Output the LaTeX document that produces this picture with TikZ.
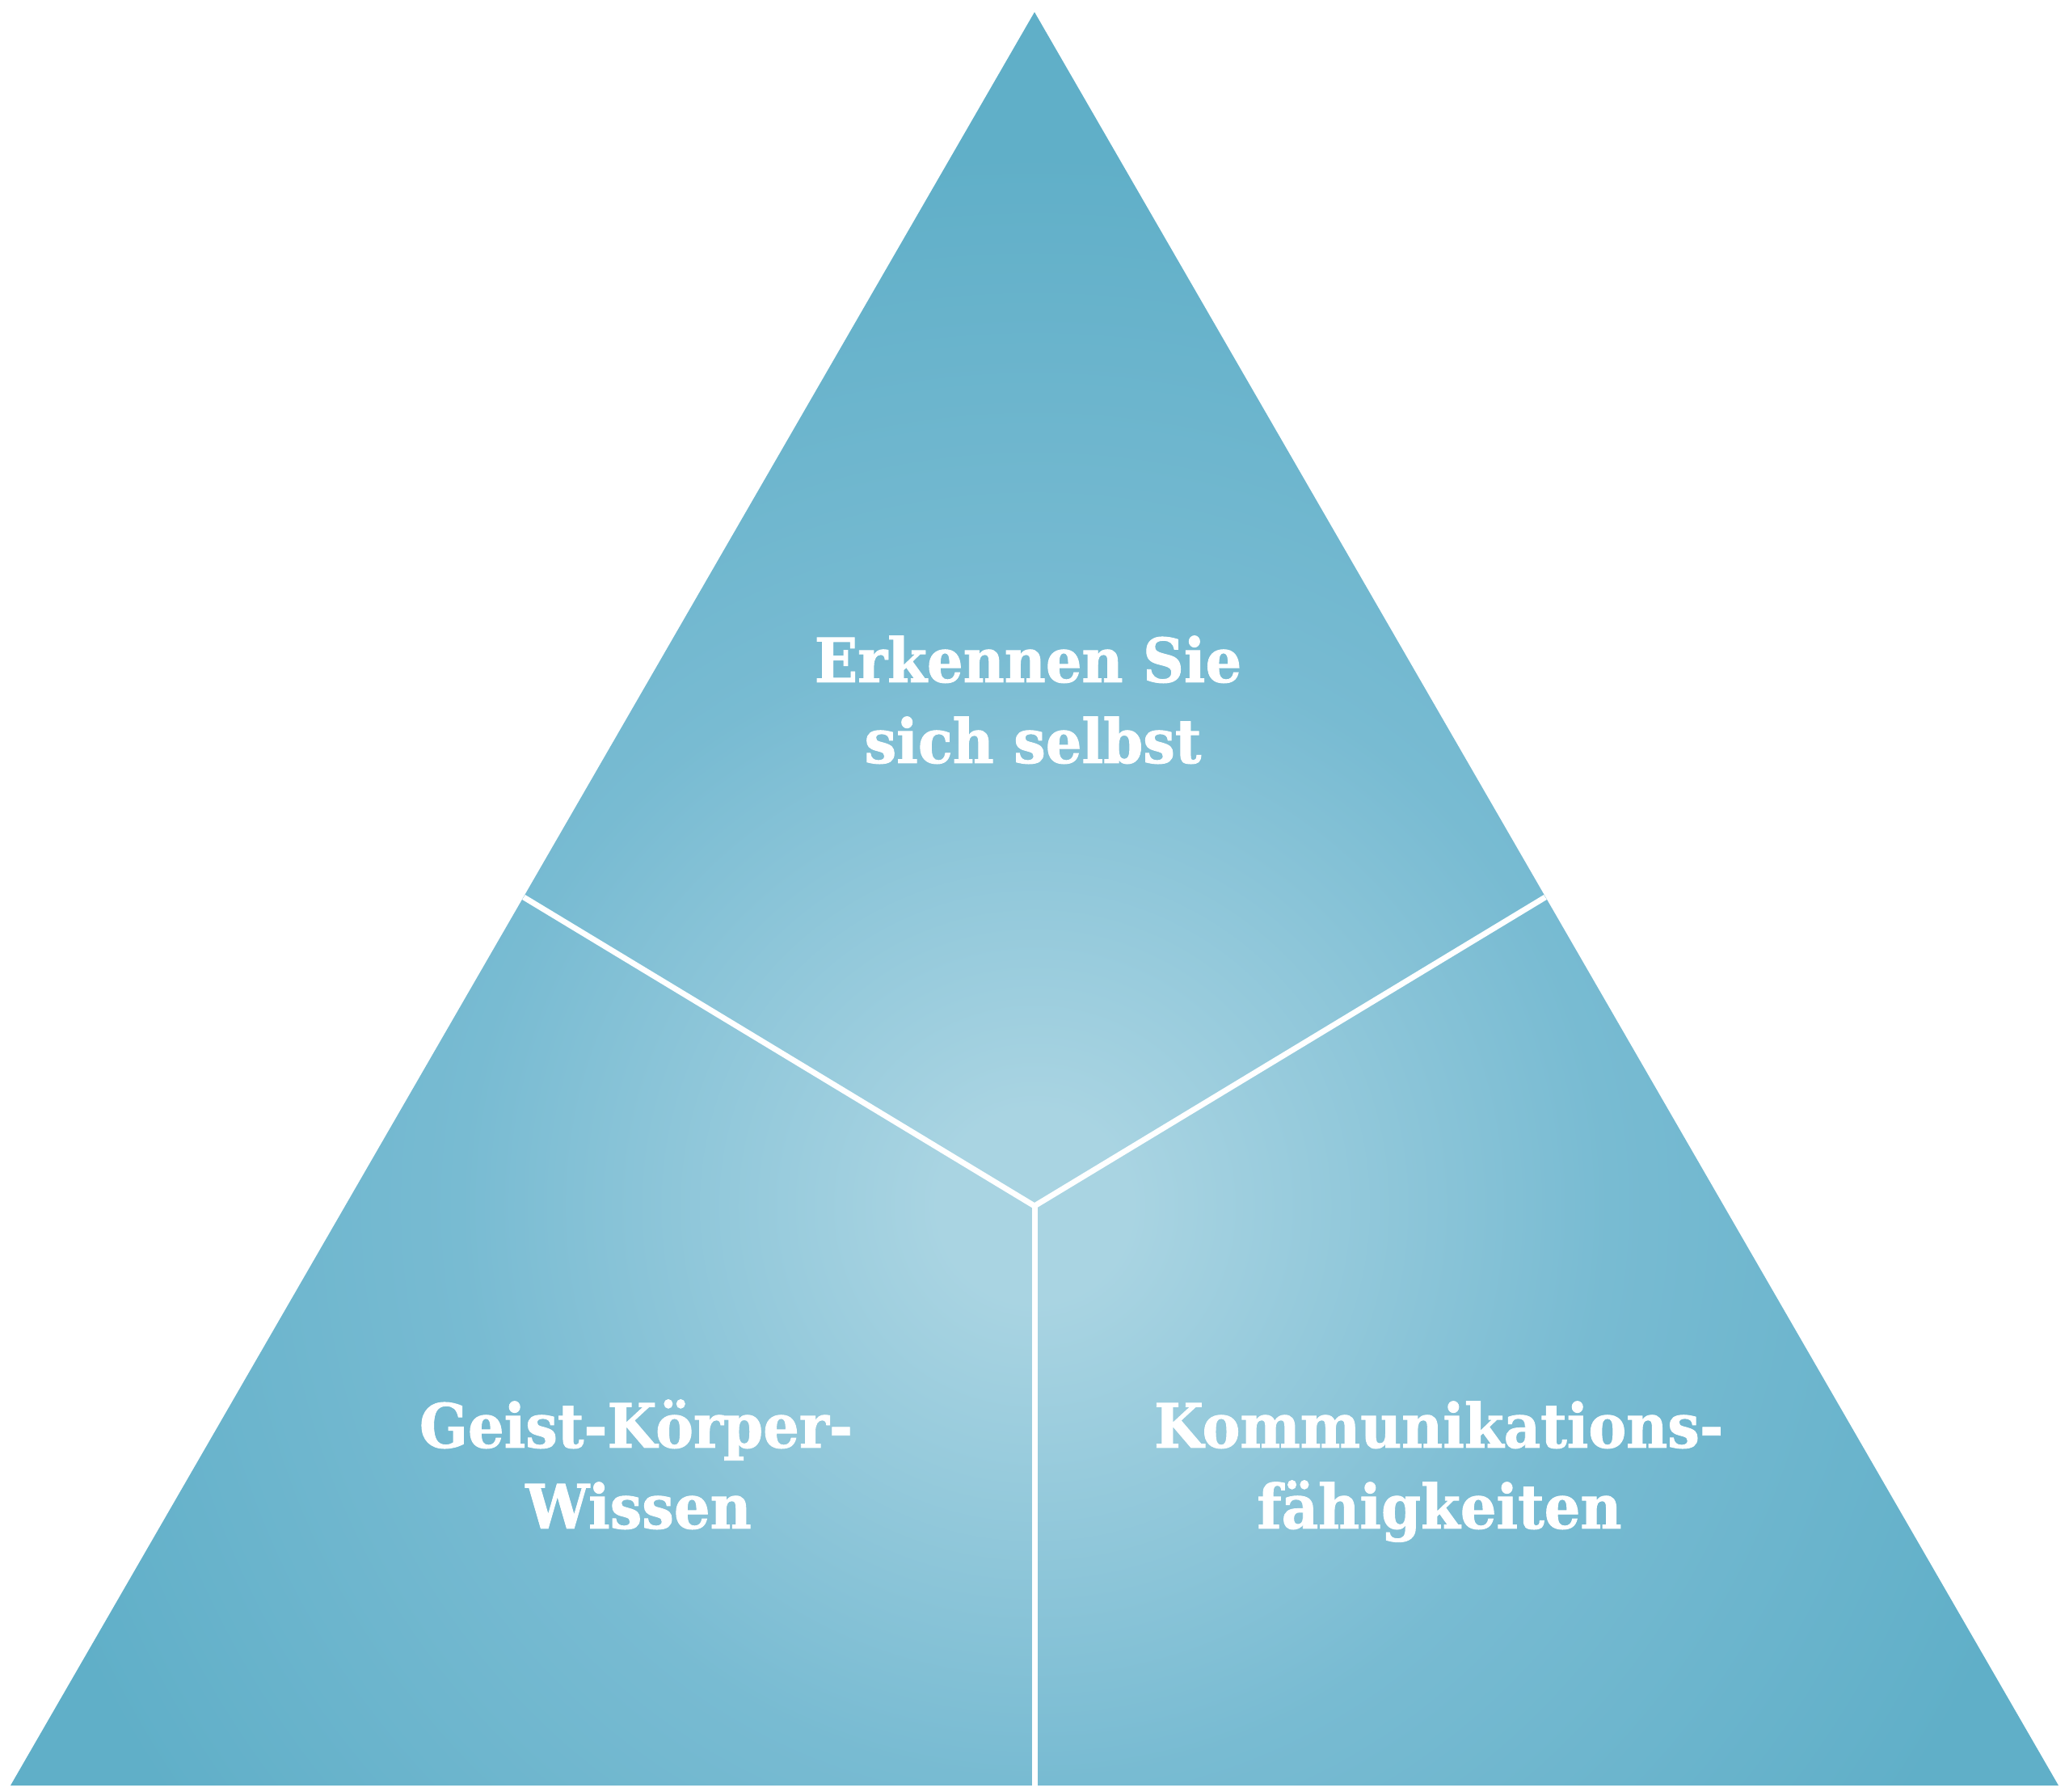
\documentclass[tikz,border=0pt]{standalone}
\usepackage{fontspec}
\setmainfont{DejaVu Serif}[FakeStretch=0.93,FakeBold=1.2]
\definecolor{cLight}{RGB}{169,212,226}
\definecolor{cMid}{RGB}{120,187,210}
\definecolor{cDark}{RGB}{96,175,200}
\pgfdeclareradialshading{trishade}{\pgfpoint{0bp}{0bp}}{color(0bp)=(cLight); color(2bp)=(cLight); color(12bp)=(cMid); color(22bp)=(cDark); color(50bp)=(cDark)}
\tikzset{
  divider/.style={draw=white, line width=0.07cm, line join=miter},
  label/.style={text=white, font=\bfseries\fontsize{21.5pt}{28.45pt}\selectfont, inner sep=0pt, anchor=base}
}
\begin{document}
\begin{tikzpicture}
\useasboundingbox (0,0) rectangle (25.6,22.17);
\fill[white] (0,0) rectangle (25.6,22.17);
\coordinate (A) at (12.80,22.02);
\coordinate (BL) at (0.13,0.08);
\coordinate (BR) at (25.47,0.08);
\coordinate (C) at (12.80,7.25);
\coordinate (L) at (6.48,11.07);
\coordinate (R) at (19.12,11.07);
\coordinate (B) at (12.80,0.08);
\begin{scope}
\clip (A) -- (BL) -- (BR) -- cycle;
\shade[shading=trishade] (C) circle (14.8);
\end{scope}
\draw[divider] (L) -- (C) -- (R);
\draw[divider] (C) -- (B);
\node[label] (t1) at (12.72,13.73) {Erkennen Sie};
\node[label] (t2) at (12.78,12.73) {sich selbst};
\node[label] (l1) at (7.87,4.26) {Geist-Körper-};
\node[label] (l2) at (7.90,3.26) {Wissen};
\node[label] (r1) at (17.80,4.26) {Kommunikations-};
\node[label] (r2) at (17.81,3.26) {fähigkeiten};
\end{tikzpicture}
\end{document}
